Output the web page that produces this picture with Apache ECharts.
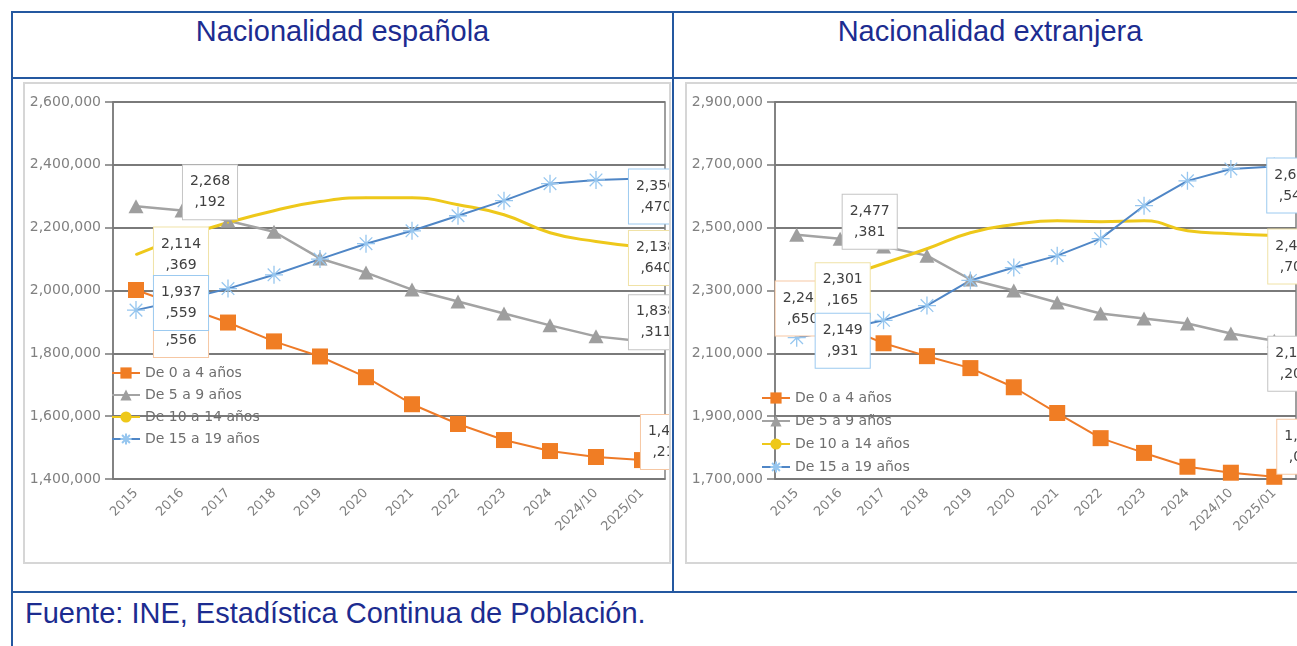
<!DOCTYPE html>
<html>
<head>
<meta charset="utf-8">
<script src="https://cdn.jsdelivr.net/npm/echarts@6/dist/echarts.min.js"></script>
<style>
  html, body { margin: 0; padding: 0; width: 1297px; height: 646px; overflow: hidden; background: #fff; font-family: "Liberation Sans", Arial, sans-serif; }
  .ln { position: absolute; background: #2458a0; }
  .hd { position: absolute; top: 14px; height: 34px; line-height: 34px; text-align: center; font-size: 29px; color: #1c2c90; white-space: nowrap; }
  .foot { position: absolute; left: 25px; top: 596px; height: 34px; line-height: 34px; font-size: 29px; color: #1c2c90; white-space: nowrap; }
  .box { position: absolute; top: 82px; height: 482px; box-sizing: border-box; border: 2px solid #d6d6d6; background: #fff; overflow: hidden; }
  .chart { width: 100%; height: 100%; }
</style>
</head>
<body>
<div class="ln" style="left:11px;top:11px;width:1286px;height:2px"></div>
<div class="ln" style="left:11px;top:11px;width:2px;height:635px"></div>
<div class="ln" style="left:11px;top:77px;width:1286px;height:2px"></div>
<div class="ln" style="left:672px;top:11px;width:2px;height:582px"></div>
<div class="ln" style="left:11px;top:591px;width:1286px;height:2px"></div>

<div class="hd" style="left:13px;width:659px">Nacionalidad española</div>
<div class="hd" style="left:673px;width:634px">Nacionalidad extranjera</div>

<div class="box" style="left:23px;width:648px"><div class="chart" id="c1"></div></div>
<div class="box" style="left:685px;width:620px;border-right:none"><div class="chart" id="c2"></div></div>

<div class="foot">Fuente: INE, Estadística Continua de Población.</div>

<script>
  // categorías y series
  var categories = ['2015', '2016', '2017', '2018', '2019', '2020', '2021', '2022', '2023', '2024', '2024/10', '2025/01']
  var seriesNames = ['De 0 a 4 años', 'De 5 a 9 años', 'De 10 a 14 años', 'De 15 a 19 años']

  // Nacionalidad española
  var esp0_4 = [2001556, 1950000, 1898000, 1838000, 1790000, 1724000, 1638000, 1575000, 1524000, 1489000, 1470000, 1460210]
  var esp5_9 = [2268192, 2255000, 2222000, 2187000, 2102000, 2057000, 2003000, 1965000, 1927000, 1889000, 1854000, 1838311]
  var esp10_14 = [2114369, 2170000, 2216000, 2254000, 2283000, 2295000, 2295000, 2273000, 2241000, 2184000, 2156000, 2138640]
  var esp15_19 = [1937559, 1970000, 2006000, 2050000, 2100000, 2149000, 2190000, 2238000, 2286000, 2340000, 2352000, 2356470]
  var espTicks = [1400000, 2600000, 200000]

  // Nacionalidad extranjera
  var ext0_4 = [2245650, 2190000, 2132000, 2091000, 2053000, 1992000, 1910000, 1830000, 1783000, 1739000, 1720000, 1707000]
  var ext5_9 = [2477381, 2465000, 2440000, 2411000, 2335000, 2300000, 2262000, 2227000, 2211000, 2195000, 2163000, 2140200]
  var ext10_14 = [2301165, 2340000, 2386000, 2433000, 2484000, 2510000, 2522000, 2519000, 2522000, 2490000, 2481000, 2474700]
  var ext15_19 = [2149931, 2175000, 2205000, 2252000, 2332000, 2373000, 2411000, 2465000, 2570000, 2649000, 2687000, 2694540]
  var extTicks = [1700000, 2900000, 200000]

  var font = 'DejaVu Sans'
  var grey = '#808080'
  var star = 'path://M10,0L10,20M0,10L20,10M3,3L17,17M3,17L17,3'

  function fmt(p) {
    var s = Number(p.value).toLocaleString('en-US')
    return s.slice(0, 5) + '\n' + s.slice(5)
  }

  function lbl(off, border) {
    return {
      show: true,
      position: 'inside',
      offset: off,
      formatter: fmt,
      backgroundColor: '#fff',
      borderColor: border,
      borderWidth: 1,
      padding: [6, 7],
      fontSize: 14,
      lineHeight: 21,
      fontFamily: font,
      color: '#404040',
    }
  }

  // primer y último punto con etiqueta
  function items(arr, offs, border) {
    return arr.map(function (v, i) {
      if (i === 0) return { value: v, label: lbl(offs[0], border) }
      if (i === arr.length - 1) return { value: v, label: lbl(offs[1], border) }
      return v
    })
  }

  function makeOption(vals, ticks, offs, gridW, legendPos) {
    return {
      animation: false,
      grid: { left: 88, top: 18, width: gridW, height: 377, show: true, borderColor: '#808080', borderWidth: 1.5, backgroundColor: '#fff' },
      legend: {
        orient: 'vertical',
        left: legendPos[0],
        top: legendPos[1],
        itemGap: legendPos[2],
        itemWidth: 28,
        itemHeight: 14,
        data: seriesNames,
        textStyle: { fontFamily: font, fontSize: 14, color: '#6e6e6e' },
      },
      xAxis: {
        type: 'category',
        data: categories,
        boundaryGap: true,
        axisLine: { lineStyle: { color: '#7a7a7a', width: 1.5 } },
        axisTick: { length: 8, lineStyle: { color: '#7a7a7a', width: 1.5 } },
        axisLabel: { rotate: 45, margin: 12, fontFamily: font, fontSize: 13, color: grey, interval: 0 },
      },
      yAxis: {
        type: 'value',
        min: ticks[0],
        max: ticks[1],
        interval: ticks[2],
        axisLine: { show: true, lineStyle: { color: '#7a7a7a', width: 1.5 } },
        axisTick: { show: true, length: 8, lineStyle: { color: '#7a7a7a', width: 1.5 } },
        axisLabel: {
          margin: 12,
          fontFamily: font,
          fontSize: 14,
          color: grey,
          formatter: function (v) { return v.toLocaleString('en-US') },
        },
        splitLine: { lineStyle: { color: '#7a7a7a', width: 1.8 } },
      },
      series: [
        {
          name: seriesNames[0],
          type: 'line',
          data: items(vals[0], offs[0], '#f6c7a3'),
          symbol: 'rect',
          symbolSize: 16,
          lineStyle: { color: '#ee7a27', width: 2 },
          itemStyle: { color: '#f07d24' },
        },
        {
          name: seriesNames[1],
          type: 'line',
          data: items(vals[1], offs[1], '#c4c4c4'),
          symbol: 'triangle',
          symbolSize: [15, 14],
          lineStyle: { color: '#a3a3a3', width: 2.5 },
          itemStyle: { color: '#9e9e9e' },
        },
        {
          name: seriesNames[2],
          type: 'line',
          data: items(vals[2], offs[2], '#f0e2a6'),
          smooth: true,
          symbol: 'circle',
          symbolSize: 2,
          lineStyle: { color: '#eec81a', width: 3 },
          itemStyle: { color: '#eec81a' },
        },
        {
          name: seriesNames[3],
          type: 'line',
          data: items(vals[3], offs[3], '#9ccaf0'),
          symbol: star,
          symbolSize: 18,
          lineStyle: { color: '#4f86c6', width: 2 },
          itemStyle: { color: '#4f86c6', borderColor: '#96c6ef', borderWidth: 1.3 },
        },
      ],
    }
  }

  var c1 = echarts.init(document.getElementById('c1'))
  c1.setOption(makeOption(
    [esp0_4, esp5_9, esp10_14, esp15_19], espTicks,
    [[[45, 40], [26, -18]], [[74, -14], [14, -19]], [[45, 0], [14, 11]], [[45, -7], [14, 18]]],
    552, [81, 277, 8]
  ))

  var c2 = echarts.init(document.getElementById('c2'))
  c2.setOption(makeOption(
    [ext0_4, ext5_9, ext10_14, ext15_19], extTicks,
    [[[6, 1], [30, -30]], [[73, -13], [21, 23]], [[46, 0], [21, 21]], [[46, 3], [20, 19]]],
    521, [69, 302, 9]
  ))
</script>
</body>
</html>
